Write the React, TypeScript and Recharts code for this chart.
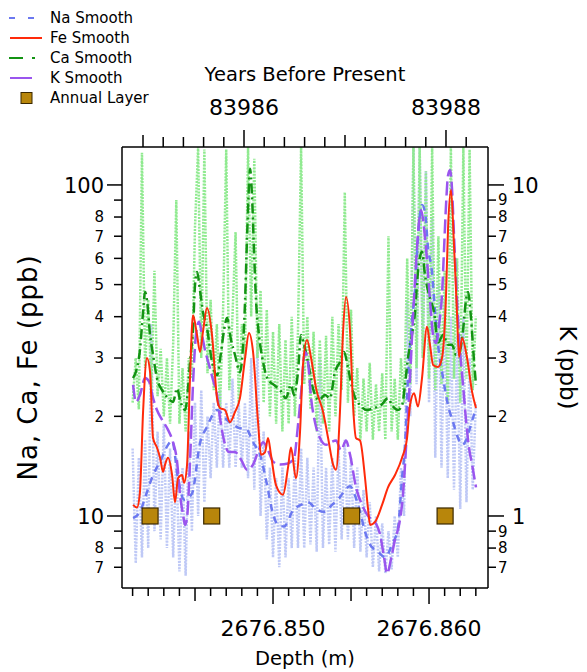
import React from 'react';
import { ComposedChart, Line, Scatter, XAxis, YAxis, Label } from 'recharts';

const FONT = '"DejaVu Sans", Verdana, sans-serif';

// Axis ranges
const DEPTH_DOMAIN: [number, number] = [2676.84032, 2676.86378];
const YEAR_DOMAIN: [number, number] = [83984.792, 83988.416];
const PPB_DOMAIN: [number, number] = [6.06, 130.2];
const K_DOMAIN: [number, number] = [0.606, 13.02];

// Tick values
const depthTicks = [
  2676.841, 2676.842, 2676.843, 2676.844, 2676.845, 2676.846, 2676.847, 2676.848,
  2676.849, 2676.85, 2676.851, 2676.852, 2676.853, 2676.854, 2676.855, 2676.856,
  2676.857, 2676.858, 2676.859, 2676.86, 2676.861, 2676.862, 2676.863,
];
const yearTicks = [
  83985, 83985.2, 83985.4, 83985.6, 83985.8, 83986, 83986.2, 83986.4, 83986.6,
  83986.8, 83987, 83987.2, 83987.4, 83987.6, 83987.8, 83988, 83988.2,
];
const ppbTicks = [7, 8, 9, 10, 20, 30, 40, 50, 60, 70, 80, 90, 100];
const kTicks = [0.7, 0.8, 0.9, 1, 2, 3, 4, 5, 6, 7, 8, 9, 10];

// Raw measurements: first sample depth and sampling interval (m)
const RAW_START = 2676.841;
const RAW_STEP = 0.0002;

// Ca raw (ppb)
const caRaw = [
  22, 30, 21, 125, 28, 45, 24, 55, 23, 32,
  20, 30, 19, 33, 90, 19, 28, 18, 30, 26,
  75, 130, 30, 128, 27, 45, 24, 38, 21, 42,
  128, 24, 40, 72, 22, 38, 30, 130, 40, 120,
  30, 48, 22, 42, 20, 36, 19, 38, 18, 34,
  19, 40, 20, 36, 130, 25, 40, 21, 36, 18,
  34, 19, 35, 18, 40, 20, 38, 24, 95, 22,
  42, 20, 28, 17, 26, 18, 29, 17, 25, 18,
  27, 17, 70, 18, 26, 17, 30, 22, 60, 25,
  130, 28, 130, 30, 110, 26, 130, 24, 70, 25,
  55, 22, 130, 26, 60, 22, 130, 26, 128, 24,
  40,
];

// Na raw (ppb)
const naRaw = [
  16, 7.2, 15, 7.5, 17, 8, 38, 9, 18, 8.5,
  19, 8, 16, 7.5, 15, 6.8, 14, 6.6, 18, 9,
  22, 10, 24, 11, 20, 13, 22, 14, 24, 14,
  22, 14, 26, 14, 22, 14, 22, 13, 30, 12,
  34, 10, 18, 8.5, 14, 7.5, 13, 7, 14, 7.5,
  13, 8, 15, 8, 16, 8, 15, 8.2, 14, 7.8,
  30, 8, 14, 8.2, 15, 7.8, 16, 8.5, 17, 8.5,
  15, 8, 14, 7.8, 12, 7.5, 11, 7, 10, 6.8,
  9.5, 6.7, 9, 6.9, 10, 7.5, 14, 10, 45, 20,
  130, 25, 130, 30, 110, 22, 80, 15, 50, 14,
  45, 13, 40, 12, 35, 10.5, 40, 11, 30, 12,
  22,
];

// Smoothed series: [depth (m), concentration]
const naSmooth = [
  [2676.84103, 9.86], [2676.84147, 10.3], [2676.84192, 11.8], [2676.84231, 13.3],
  [2676.84276, 14.6], [2676.84327, 16.4], [2676.84353, 16.9], [2676.84391, 13.0],
  [2676.8443, 11.2], [2676.84481, 11.7], [2676.84532, 16.6], [2676.84577, 18.6],
  [2676.84641, 20.9], [2676.84705, 19.5], [2676.84776, 18.5], [2676.84833, 18.2],
  [2676.84872, 16.7], [2676.84917, 15.3], [2676.84962, 12.4], [2676.84994, 10.4],
  [2676.85032, 9.4], [2676.85071, 9.3], [2676.85128, 10.4], [2676.85179, 10.8],
  [2676.85224, 11.0], [2676.85276, 10.5], [2676.85327, 10.3], [2676.85378, 10.8],
  [2676.85429, 11.4], [2676.85462, 12.0], [2676.85494, 12.3], [2676.85526, 11.5],
  [2676.85558, 10.3], [2676.8559, 8.95], [2676.85622, 8.2], [2676.85673, 7.8],
  [2676.85718, 7.5], [2676.85763, 8.2], [2676.85801, 9.2], [2676.85827, 13.0],
  [2676.85846, 16.4], [2676.85865, 26.1], [2676.85891, 39.0], [2676.8591, 48.2],
  [2676.85929, 69.2], [2676.85955, 87.0], [2676.85974, 82.8], [2676.85994, 64.5],
  [2676.86019, 54.6], [2676.86038, 41.9], [2676.86058, 32.9], [2676.8609, 26.1],
  [2676.86122, 21.6], [2676.86154, 19.2], [2676.86186, 17.2], [2676.86212, 16.4],
  [2676.86237, 16.9], [2676.86263, 18.5], [2676.86301, 21.2],
];

const feSmooth = [
  [2676.84103, 10.8], [2676.84128, 10.6], [2676.84147, 11.8], [2676.84167, 20.6],
  [2676.84192, 30.0], [2676.84212, 27.2], [2676.84231, 17.2], [2676.84256, 16.1],
  [2676.84276, 15.0], [2676.84295, 13.6], [2676.84308, 14.3], [2676.84327, 15.0],
  [2676.84353, 13.3], [2676.84372, 11.0], [2676.84391, 13.0], [2676.84417, 13.3],
  [2676.8443, 12.6], [2676.84449, 14.3], [2676.84468, 26.1], [2676.84487, 40.4],
  [2676.84513, 35.2], [2676.84532, 31.3], [2676.84551, 36.0], [2676.84577, 42.5],
  [2676.84609, 35.2], [2676.84641, 22.7], [2676.8466, 21.2], [2676.84692, 20.9],
  [2676.84724, 19.2], [2676.84756, 20.6], [2676.84788, 22.7], [2676.84821, 30.0],
  [2676.84846, 35.7], [2676.84872, 31.3], [2676.84904, 19.2], [2676.84923, 15.3],
  [2676.84949, 15.6], [2676.84968, 17.2], [2676.84987, 15.3], [2676.85019, 12.4],
  [2676.85064, 11.6], [2676.85096, 14.0], [2676.85115, 16.1], [2676.85147, 13.0],
  [2676.85173, 17.9], [2676.85192, 28.6], [2676.85218, 34.0], [2676.85244, 30.0],
  [2676.85276, 24.3], [2676.85321, 20.6], [2676.85353, 17.2], [2676.85385, 14.3],
  [2676.85404, 13.8], [2676.85429, 20.6], [2676.85449, 36.0], [2676.85468, 45.9],
  [2676.85494, 36.0], [2676.85513, 21.6], [2676.85532, 17.2], [2676.85558, 16.9],
  [2676.8559, 13.0], [2676.85609, 10.5], [2676.85622, 9.4], [2676.85654, 9.6],
  [2676.85699, 10.8], [2676.85737, 12.2], [2676.85782, 13.3], [2676.85827, 15.0],
  [2676.85859, 17.2], [2676.85878, 21.6], [2676.85904, 23.5], [2676.85929, 21.4],
  [2676.85955, 26.1], [2676.85987, 37.3], [2676.86006, 32.9], [2676.86026, 28.6],
  [2676.86058, 28.2], [2676.86083, 30.0], [2676.86109, 46.5], [2676.86122, 74.1],
  [2676.86141, 96.6], [2676.8616, 65.9], [2676.86179, 41.3], [2676.86192, 30.2],
  [2676.86212, 34.5], [2676.86244, 30.0], [2676.86276, 23.7], [2676.86301, 21.2],
];

const caSmooth = [
  [2676.84103, 26.1], [2676.84128, 28.0], [2676.84147, 31.7], [2676.84167, 41.3],
  [2676.8418, 47.5], [2676.84192, 44.9], [2676.84212, 35.2], [2676.84231, 30.7],
  [2676.84256, 26.1], [2676.84289, 24.0], [2676.84327, 22.7], [2676.84359, 22.1],
  [2676.84385, 24.3], [2676.84404, 22.4], [2676.84436, 20.9], [2676.84474, 31.3],
  [2676.84487, 36.4], [2676.845, 49.9], [2676.84513, 54.6], [2676.84532, 48.0],
  [2676.84551, 41.3], [2676.84577, 36.9], [2676.84609, 29.2], [2676.84641, 26.6],
  [2676.84667, 31.3], [2676.84686, 36.4], [2676.84705, 39.6], [2676.84731, 34.0],
  [2676.84756, 30.7], [2676.84788, 27.2], [2676.84808, 32.9], [2676.84821, 44.9],
  [2676.84833, 68.2], [2676.84846, 100], [2676.84853, 112], [2676.84865, 93.3],
  [2676.84878, 63.6], [2676.84891, 44.9], [2676.8491, 35.2], [2676.84936, 29.2],
  [2676.84968, 25.8], [2676.85006, 24.9], [2676.85045, 24.0], [2676.85083, 22.7],
  [2676.85115, 24.9], [2676.85135, 23.2], [2676.8516, 27.2], [2676.85179, 35.2],
  [2676.85199, 32.9], [2676.85224, 29.2], [2676.85256, 24.3], [2676.85295, 22.4],
  [2676.85333, 23.2], [2676.85365, 22.7], [2676.85397, 27.2], [2676.85429, 29.2],
  [2676.85455, 31.3], [2676.85481, 28.0], [2676.85513, 23.7], [2676.85558, 21.6],
  [2676.85603, 20.9], [2676.85648, 21.2], [2676.85692, 21.6], [2676.85737, 22.7],
  [2676.85763, 21.6], [2676.85801, 20.9], [2676.85827, 21.6], [2676.85846, 24.9],
  [2676.85865, 30.0], [2676.85885, 34.0], [2676.8591, 41.3], [2676.85929, 54.6],
  [2676.85955, 62.8], [2676.85974, 53.5], [2676.86006, 45.5], [2676.86032, 41.3],
  [2676.86058, 33.4], [2676.8609, 35.2], [2676.86122, 32.9], [2676.86147, 32.9],
  [2676.86173, 30.7], [2676.86199, 31.7], [2676.86218, 36.4], [2676.86237, 44.9],
  [2676.8625, 47.5], [2676.86269, 39.6], [2676.86288, 29.6], [2676.86301, 24.9],
];

const kSmooth = [
  [2676.84103, 2.49], [2676.84122, 2.21], [2676.84147, 2.32], [2676.8418, 2.61],
  [2676.84205, 2.55], [2676.84231, 2.27], [2676.84256, 2.09], [2676.84289, 1.95],
  [2676.84327, 1.82], [2676.84359, 1.67], [2676.84385, 1.46], [2676.84404, 1.16],
  [2676.84423, 1.01], [2676.84436, 0.94], [2676.84449, 0.99], [2676.84468, 1.46],
  [2676.84487, 2.49], [2676.84506, 3.52], [2676.84526, 3.86], [2676.84545, 3.52],
  [2676.84564, 3.17], [2676.8459, 2.86], [2676.84615, 2.58], [2676.84641, 2.32],
  [2676.8466, 1.98], [2676.84686, 1.69], [2676.84718, 1.56], [2676.84756, 1.56],
  [2676.84795, 1.48], [2676.84833, 1.38], [2676.84872, 1.43], [2676.84904, 1.56],
  [2676.84936, 1.67], [2676.84968, 1.58], [2676.85, 1.46], [2676.85045, 1.43],
  [2676.85096, 1.44], [2676.85135, 1.5], [2676.8516, 1.88], [2676.85179, 2.32],
  [2676.85205, 3.13], [2676.85224, 2.92], [2676.85244, 2.27], [2676.85269, 1.92],
  [2676.85301, 1.72], [2676.8534, 1.64], [2676.85372, 1.67], [2676.85404, 1.69],
  [2676.85436, 1.58], [2676.85468, 1.69], [2676.85494, 1.53], [2676.85532, 1.22],
  [2676.85571, 1.08], [2676.85609, 1.0], [2676.85654, 0.96], [2676.85686, 0.88],
  [2676.85712, 0.75], [2676.85731, 0.67], [2676.85756, 0.74], [2676.85782, 0.85],
  [2676.85808, 0.94], [2676.85833, 1.16], [2676.85859, 1.82], [2676.85878, 2.61],
  [2676.85897, 3.96], [2676.85917, 5.85], [2676.85936, 7.73], [2676.85949, 8.4],
  [2676.85968, 7.41], [2676.85987, 5.94], [2676.86006, 4.49], [2676.86026, 3.52],
  [2676.86045, 3.33], [2676.86064, 3.78], [2676.86083, 4.65], [2676.86096, 6.36],
  [2676.86109, 8.7], [2676.86122, 10.7], [2676.86135, 11.1], [2676.86147, 9.79],
  [2676.8616, 7.06], [2676.86179, 4.49], [2676.86199, 3.13], [2676.86218, 2.49],
  [2676.86237, 1.95], [2676.86256, 1.61], [2676.86276, 1.43], [2676.86301, 1.22],
];

// Annual layer markers (depth, plotted at 10 ppb)
const annualLayerDepths = [2676.84212, 2676.84607, 2676.85504, 2676.86103];
const ANNUAL_LAYER_LEVEL = 10;

const COLORS = {
  naRaw: '#bfc9f6',
  caRaw: '#90ea90',
  na: '#6b78f0',
  fe: '#ff2a0a',
  ca: '#139313',
  k: '#9a55ee',
  layerFill: '#b8860b',
  layerEdge: '#3a2800',
};

const toRows = (pairs: number[][]) => pairs.map(([d, v]) => ({ d, v }));
const rawRows = (vals: number[]) => vals.map((v, i) => ({ d: RAW_START + i * RAW_STEP, v }));

const caRawRows = rawRows(caRaw);
const naRawRows = rawRows(naRaw);
const naRows = toRows(naSmooth);
const feRows = toRows(feSmooth);
const caRows = toRows(caSmooth);
const kRows = toRows(kSmooth);
const layerRows = annualLayerDepths.map((d) => ({ d, v: ANNUAL_LAYER_LEVEL }));
// invisible anchor that gives the age axis its extent
const yearSpan = YEAR_DOMAIN.map((yr) => ({ yr, v: ANNUAL_LAYER_LEVEL }));

const AXIS_LINE = { stroke: '#000', strokeWidth: 1.5 };

const DepthTick = (props: any) => {
  const { x, y, payload } = props;
  const v: number = payload.value;
  const mm = Math.round((v - 2676.84) * 1000);
  const major = mm % 10 === 0;
  const mid = mm % 5 === 0;
  const len = major ? 16 : mid ? 13 : 8;
  return (
    <g>
      <line x1={x} x2={x} y1={y} y2={y + len} stroke="#000" strokeWidth={1.5} />
      {major && (
        <text x={x} y={y + 48} textAnchor="middle" fontSize={22} fontFamily={FONT} fill="#000">
          {v.toFixed(3)}
        </text>
      )}
    </g>
  );
};

const YearTick = (props: any) => {
  const { x, y, payload } = props;
  const v: number = payload.value;
  const t = Math.round((v - 83985) * 5);
  const major = t === 5 || t === 15;
  const mid = t === 0 || t === 10;
  const len = major ? 17 : mid ? 12 : 10;
  return (
    <g>
      <line x1={x} x2={x} y1={y} y2={y - len} stroke="#000" strokeWidth={1.5} />
      {major && (
        <text x={x} y={y - 32} textAnchor="middle" fontSize={22} fontFamily={FONT} fill="#000">
          {String(Math.round(v))}
        </text>
      )}
    </g>
  );
};

const PpbTick = (props: any) => {
  const { x, y, payload } = props;
  const v: number = payload.value;
  const major = v === 10 || v === 100;
  const len = major ? 15 : 8;
  const label = major ? String(v) : v === 9 || v === 90 ? '' : String(v >= 10 ? v / 10 : v);
  return (
    <g>
      <line x1={x - len} x2={x} y1={y} y2={y} stroke="#000" strokeWidth={1.5} />
      {label && (
        <text x={x - 18} y={y} dy="0.36em" textAnchor="end" fontSize={major ? 21 : 15} fontFamily={FONT} fill="#000">
          {label}
        </text>
      )}
    </g>
  );
};

const KTick = (props: any) => {
  const { x, y, payload } = props;
  const v: number = payload.value;
  const major = v === 1 || v === 10;
  const len = major ? 16 : 8;
  const label = v < 1 ? String(Math.round(v * 10)) : String(v);
  return (
    <g>
      <line x1={x} x2={x + len} y1={y} y2={y} stroke="#000" strokeWidth={1.5} />
      <text x={major ? x + 24 : x + 10} y={y} dy="0.36em" textAnchor="start" fontSize={major ? 21 : 15} fontFamily={FONT} fill="#000">
        {label}
      </text>
    </g>
  );
};

const LayerSquare = (props: any) => {
  const { cx, cy } = props;
  if (cx == null || cy == null) return null;
  return (
    <rect x={cx - 8} y={cy - 8} width={16} height={16} fill={COLORS.layerFill} stroke={COLORS.layerEdge} strokeWidth={1.2} />
  );
};

const legendItems = [
  { name: 'Na Smooth', kind: 'na' },
  { name: 'Fe Smooth', kind: 'fe' },
  { name: 'Ca Smooth', kind: 'ca' },
  { name: 'K Smooth', kind: 'k' },
  { name: 'Annual Layer', kind: 'layer' },
];

const LegendBox = () => (
  <svg width={200} height={112} style={{ position: 'absolute', left: 0, top: 0 }}>
    {legendItems.map((it, i) => {
      const y = 18 + i * 20;
      let mark: React.ReactNode = null;
      if (it.kind === 'na') mark = <line x1={9} x2={36} y1={y} y2={y} stroke={COLORS.na} strokeWidth={2} strokeDasharray="6 13" />;
      if (it.kind === 'fe') mark = <line x1={10} x2={42} y1={y} y2={y} stroke={COLORS.fe} strokeWidth={2} />;
      if (it.kind === 'ca') mark = <line x1={9} x2={36} y1={y} y2={y} stroke={COLORS.ca} strokeWidth={2} strokeDasharray="14 9 3 40" />;
      if (it.kind === 'k') mark = <line x1={10} x2={32} y1={y} y2={y} stroke={COLORS.k} strokeWidth={2} />;
      if (it.kind === 'layer') mark = <rect x={21} y={y - 5.5} width={11} height={11} fill={COLORS.layerFill} stroke={COLORS.layerEdge} strokeWidth={1} />;
      return (
        <g key={it.name}>
          {mark}
          <text x={50} y={y} dy="0.36em" fontSize={15} fontFamily={FONT} fill="#000">
            {it.name}
          </text>
        </g>
      );
    })}
  </svg>
);

export default function App() {
  return (
    <div style={{ position: 'relative', width: 587, height: 672, background: '#fff' }}>
      <style>{'body{margin:0;background:#fff}'}</style>
      <ComposedChart width={587} height={672} margin={{ top: 0, right: 0, bottom: 0, left: 0 }}>
        <XAxis
          xAxisId="depth"
          type="number"
          dataKey="d"
          orientation="bottom"
          domain={DEPTH_DOMAIN}
          allowDataOverflow
          height={84}
          ticks={depthTicks}
          interval={0}
          tick={<DepthTick />}
          tickLine={false}
          tickSize={0}
          tickMargin={0}
          axisLine={AXIS_LINE}
        >
          <Label value="Depth (m)" position="insideBottom" offset={7} fill="#000" style={{ fontSize: 19.5, fontFamily: FONT, fill: '#000' }} />
        </XAxis>
        <XAxis
          xAxisId="year"
          type="number"
          dataKey="yr"
          orientation="top"
          domain={YEAR_DOMAIN}
          allowDataOverflow
          height={147}
          ticks={yearTicks}
          interval={0}
          tick={<YearTick />}
          tickLine={false}
          tickSize={0}
          tickMargin={0}
          axisLine={AXIS_LINE}
        >
          <Label value="Years Before Present" position="insideTop" offset={67} fill="#000" style={{ fontSize: 19.5, fontFamily: FONT, fill: '#000' }} />
        </XAxis>
        <YAxis
          yAxisId="ppb"
          type="number"
          scale="log"
          domain={PPB_DOMAIN}
          allowDataOverflow
          width={122}
          ticks={ppbTicks}
          interval={0}
          tick={<PpbTick />}
          tickLine={false}
          tickSize={0}
          tickMargin={0}
          axisLine={AXIS_LINE}
        >
          <Label value="Na, Ca, Fe (ppb)" angle={-90} position="insideLeft" offset={28} fill="#000" style={{ fontSize: 26, letterSpacing: 1, fontFamily: FONT, fill: '#000', textAnchor: 'middle' }} />
        </YAxis>
        <YAxis
          yAxisId="k"
          type="number"
          orientation="right"
          scale="log"
          domain={K_DOMAIN}
          allowDataOverflow
          width={99}
          ticks={kTicks}
          interval={0}
          tick={<KTick />}
          tickLine={false}
          tickSize={0}
          tickMargin={0}
          axisLine={AXIS_LINE}
        >
          <Label value="K (ppb)" angle={90} position="insideRight" offset={19} fill="#000" style={{ fontSize: 23, fontFamily: FONT, fill: '#000', textAnchor: 'middle' }} />
        </YAxis>

        <Line xAxisId="year" yAxisId="ppb" data={yearSpan} dataKey="v" stroke="none" dot={false} activeDot={false} isAnimationActive={false} legendType="none" />
        <Line xAxisId="depth" yAxisId="ppb" data={naRawRows} dataKey="v" type="linear" stroke={COLORS.naRaw} strokeWidth={2.5} strokeDasharray="2 1.2" dot={false} activeDot={false} isAnimationActive={false} />
        <Line xAxisId="depth" yAxisId="ppb" data={caRawRows} dataKey="v" type="linear" stroke={COLORS.caRaw} strokeWidth={2.5} strokeDasharray="2 1.2" dot={false} activeDot={false} isAnimationActive={false} />
        <Line xAxisId="depth" yAxisId="ppb" data={naRows} dataKey="v" type="monotone" stroke={COLORS.na} strokeWidth={2.5} strokeDasharray="7 6" dot={false} activeDot={false} isAnimationActive={false} />
        <Line xAxisId="depth" yAxisId="ppb" data={caRows} dataKey="v" type="monotone" stroke={COLORS.ca} strokeWidth={2.5} strokeDasharray="10 4 2 4" dot={false} activeDot={false} isAnimationActive={false} />
        <Line xAxisId="depth" yAxisId="k" data={kRows} dataKey="v" type="monotone" stroke={COLORS.k} strokeWidth={2.5} strokeDasharray="14 5" dot={false} activeDot={false} isAnimationActive={false} />
        <Line xAxisId="depth" yAxisId="ppb" data={feRows} dataKey="v" type="monotone" stroke={COLORS.fe} strokeWidth={2} dot={false} activeDot={false} isAnimationActive={false} />
        <Scatter xAxisId="depth" yAxisId="ppb" data={layerRows} dataKey="v" shape={<LayerSquare />} isAnimationActive={false} />
      </ComposedChart>
      <LegendBox />
    </div>
  );
}
